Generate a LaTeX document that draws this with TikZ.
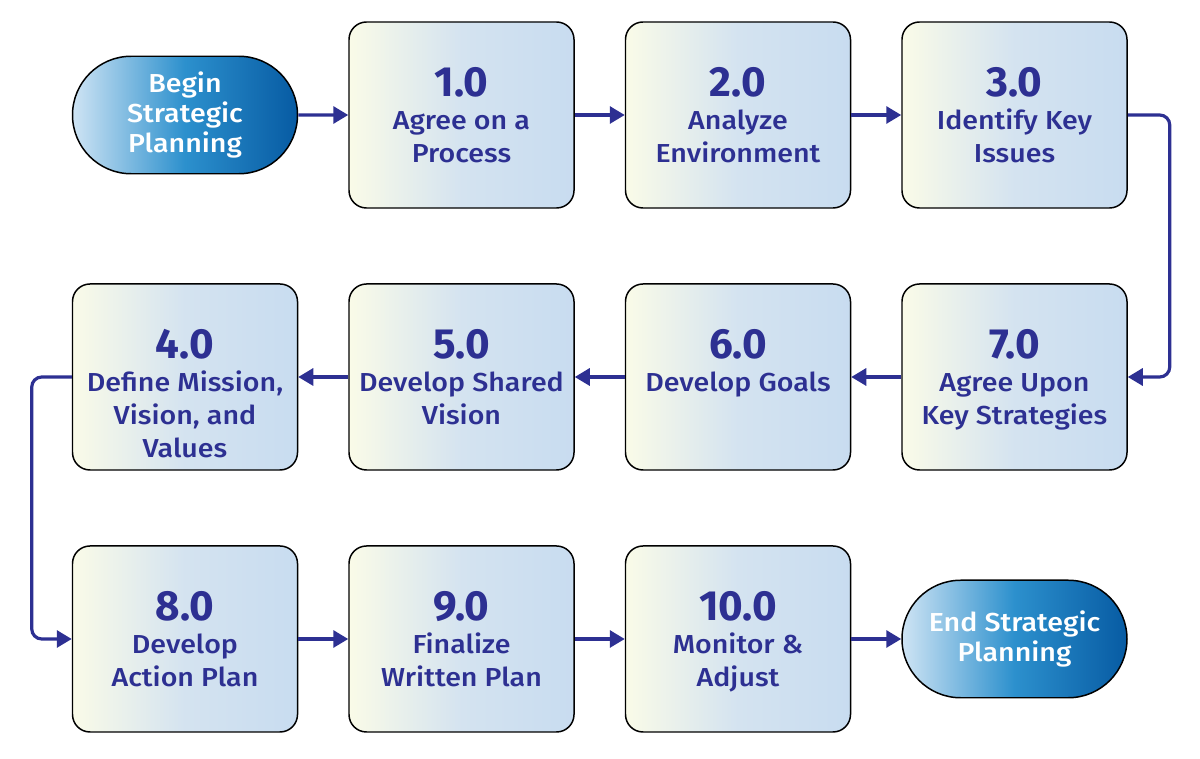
\documentclass[tikz,border=0pt]{standalone}
\usepackage{fontspec}
\setmainfont{Fira Sans}
\newfontfamily\medfont{Fira Sans Medium}[FakeStretch=1.1]
\usetikzlibrary{positioning,shapes.misc,arrows.meta}

\definecolor{flowblue}{HTML}{2D3092}
\definecolor{boxcream}{HTML}{FAFBE8}
\definecolor{boxmid}{HTML}{D4E3F0}
\definecolor{boxblue}{HTML}{C8DCF0}
\definecolor{ovallight}{HTML}{CFE4F4}
\definecolor{ovalmid}{HTML}{2C90CD}
\definecolor{ovaldark}{HTML}{075BA3}

\newcommand{\numfont}{\normalfont\bfseries\fontsize{24}{18.8}\selectfont}
\newcommand{\stepbody}[2]{\parbox[c][3.72cm][t]{4.4cm}{\centering\medfont\fontsize{14.8}{18.8}\selectfont\vspace*{0.91cm}{\numfont #1}\\#2}}

\tikzstyle{block} = [rectangle, draw, line width=0.85pt, rounded corners=0.35cm, left color=boxcream, right color=boxblue, middle color=boxmid, minimum width=4.5cm, minimum height=3.72cm, inner sep=0pt, text=flowblue]
\tikzstyle{terminal} = [rounded rectangle, draw, line width=0.85pt, left color=ovallight, right color=ovaldark, middle color=ovalmid, minimum width=4.5cm, minimum height=2.35cm, inner sep=0pt, text=white, align=center, font=\medfont\fontsize{14.8}{17}\selectfont]
\tikzstyle{line} = [draw, flowblue, line width=1.8pt, -{Triangle[length=0.3cm,width=0.34cm]}]

\begin{document}
\begin{tikzpicture}[node distance = 1.0cm, auto]
    \useasboundingbox (0,0) rectangle (24,-15.16);

    % START
        \node [terminal]
            (begin) at (3.7,-2.3) {Begin\\Strategic\\Planning};

    % ROW I (left to right)
        \node [block, right=of begin]
            (step1) {\stepbody{1.0}{Agree on a\\Process}};
        \node [block, right=of step1]
            (step2) {\stepbody{2.0}{Analyze\\Environment}};
        \node [block, right=of step2]
            (step3) {\stepbody{3.0}{Identify Key\\Issues}};

    % ROW II (right to left)
        \node [block, below=1.49cm of step3]
            (step7) {\stepbody{7.0}{Agree Upon\\Key Strategies}};
        \node [block, left=of step7]
            (step6) {\stepbody{6.0}{Develop Goals}};
        \node [block, left=of step6]
            (step5) {\stepbody{5.0}{Develop Shared\\Vision}};
        \node [block, left=of step5]
            (step4) {\stepbody{4.0}{Define Mission,\\Vision, and\\Values}};

    % ROW III (left to right)
        \node [block, below=1.49cm of step4]
            (step8) {\stepbody{8.0}{Develop\\Action Plan}};
        \node [block, right=of step8]
            (step9) {\stepbody{9.0}{Finalize\\Written Plan}};
        \node [block, right=of step9]
            (step10) {\stepbody{10.0}{Monitor \&\\Adjust}};
        \node [terminal, right=of step10]
            (end) {End Strategic\\Planning};

    % LINES row I
        \path[line] (begin) -- (step1);
        \path[line] (step1) -- (step2);
        \path[line] (step2) -- (step3);
    % LINE step3 -> step7
        \path[line, rounded corners=0.2cm]
            (step3.east) -- ++(0.84,0) |- (step7.east);
    % LINES row II
        \path[line] (step7) -- (step6);
        \path[line] (step6) -- (step5);
        \path[line] (step5) -- (step4);
    % LINE step4 -> step8
        \path[line, rounded corners=0.2cm]
            (step4.west) -- ++(-0.8,0) |- (step8.west);
    % LINES row III
        \path[line] (step8) -- (step9);
        \path[line] (step9) -- (step10);
        \path[line] (step10) -- (end);
\end{tikzpicture}
\end{document}
